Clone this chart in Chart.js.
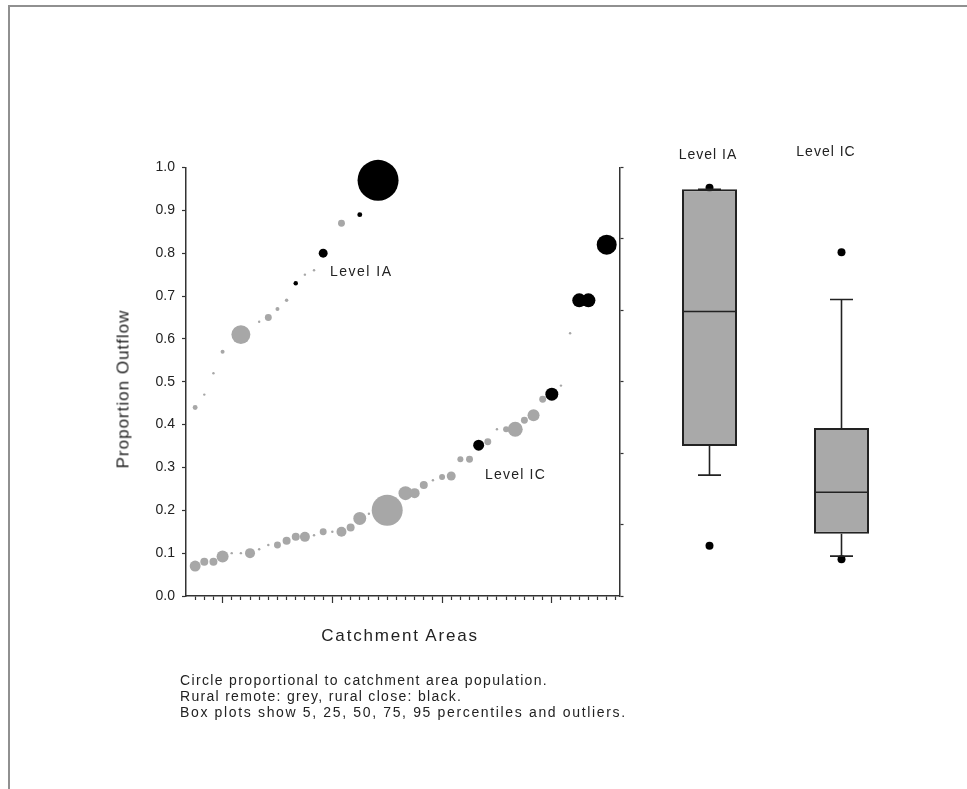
<!DOCTYPE html>
<html>
<head>
<meta charset="utf-8">
<script src="https://cdn.jsdelivr.net/npm/chart.js@4"></script>
<style>
  body { margin: 0; background: #fff; width: 967px; height: 789px; overflow: hidden; position: relative; }
  .frame { position: absolute; left: 8px; top: 5px; width: 980px; height: 800px; border-left: 2px solid #909090; border-top: 2px solid #909090; }
  canvas { position: absolute; top: 0; }
  .t { position: absolute; font-family: "Liberation Sans", Arial, sans-serif; color: #222; white-space: nowrap; line-height: 1; }
</style>
</head>
<body>
<div class="frame"></div>
<canvas id="scatter" width="640" height="789" style="left:0"></canvas>
<canvas id="boxes" width="345" height="789" style="left:622px"></canvas>

<div class="t" style="left:123px;top:389px;font-size:17px;letter-spacing:1px;transform:translate(-50%,-50%) rotate(-90deg)">Proportion Outflow</div>
<div class="t" style="left:400px;top:635px;font-size:17px;letter-spacing:1.8px;transform:translate(-50%,-50%)">Catchment Areas</div>
<div class="t" style="left:330px;top:271px;font-size:14px;letter-spacing:1.5px;transform:translateY(-50%)">Level IA</div>
<div class="t" style="left:485px;top:474px;font-size:14px;letter-spacing:1.2px;transform:translateY(-50%)">Level IC</div>
<div class="t" style="left:708px;top:154px;font-size:14px;letter-spacing:1px;transform:translate(-50%,-50%)">Level IA</div>
<div class="t" style="left:826px;top:151px;font-size:14px;letter-spacing:1px;transform:translate(-50%,-50%)">Level IC</div>
<div class="t" style="left:180px;top:680px;font-size:14px;letter-spacing:1.35px;transform:translateY(-50%)">Circle proportional to catchment area population.</div>
<div class="t" style="left:180px;top:696px;font-size:14px;letter-spacing:1.3px;transform:translateY(-50%)">Rural remote: grey, rural close: black.</div>
<div class="t" style="left:180px;top:712px;font-size:14px;letter-spacing:1.65px;transform:translateY(-50%)">Box plots show 5, 25, 50, 75, 95 percentiles and outliers.</div>

<script>
// Level IA catchments (upper curve)
const iaArea = [1, 2, 3, 4, 6, 8, 9, 10, 11, 12, 13, 14, 15, 17, 19, 21];
const iaOutflow = [0.44, 0.47, 0.52, 0.57, 0.61, 0.64, 0.65, 0.67, 0.69, 0.73, 0.75, 0.76, 0.80, 0.87, 0.89, 0.97];
const iaPopulation = [6, 1.5, 1.5, 4, 90, 1.5, 12, 4, 3, 5, 1.5, 1.5, 20, 12, 6, 420];
const iaRural = ['R','R','R','R','R','R','R','R','R','C','R','R','C','R','C','C'];

// Level IC catchments (lower curve)
const icArea = [1, 2, 3, 4, 5, 6, 7, 8, 9, 10, 11, 12, 13, 14, 15, 16, 17, 18, 19, 20, 22, 24, 25, 26, 27, 28, 29, 30, 31, 32, 33, 34, 35, 36, 37, 38, 39, 40, 41, 42, 43, 44, 46];
const icOutflow = [0.070, 0.080, 0.080, 0.092, 0.100, 0.100, 0.100, 0.109, 0.119, 0.119, 0.129, 0.138, 0.138, 0.142, 0.150, 0.150, 0.150, 0.160, 0.181, 0.192, 0.200, 0.240, 0.240, 0.259, 0.270, 0.278, 0.280, 0.319, 0.319, 0.352, 0.360, 0.389, 0.389, 0.389, 0.410, 0.422, 0.459, 0.471, 0.491, 0.613, 0.690, 0.690, 0.820];
const icPopulation = [30, 16, 16, 36, 1.5, 1.5, 25, 1.5, 1.5, 12, 16, 16, 25, 1.5, 12, 1.5, 25, 16, 42, 1.5, 240, 49, 25, 16, 1.5, 9, 20, 9, 12, 30, 12, 1.5, 9, 56, 12, 36, 12, 42, 1.5, 1.5, 49, 49, 100];
const icRural = ['R','R','R','R','R','R','R','R','R','R','R','R','R','R','R','R','R','R','R','R','R','R','R','R','R','R','R','R','R','C','R','R','R','R','R','R','R','C','R','R','C','C','C'];

const yTicks = [0, 0.1, 0.2, 0.3, 0.4, 0.5, 0.6, 0.7, 0.8, 0.9, 1.0];
const areaTickCount = 47;
const areaMajorTicks = [4, 16, 28, 40];

// box plots
const boxLabels = ['Level IA', 'Level IC'];
const boxP5 = [0.282, 0.093];
const boxQ1 = [0.350, 0.145];
const boxMedian = [0.664, 0.242];
const boxQ3 = [0.949, 0.392];
const boxP95 = [0.949, 0.692];
const boxOutliers = [[0.953, 0.117], [0.802, 0.086]];

const GREY = '#a7a7a7';
const AXIS = '#333';
const FONT = { family: '"Liberation Sans", Arial, sans-serif', size: 14 };

function bubbles(xs, ys, pops) {
  return xs.map((x, i) => ({ x: x, y: ys[i], r: Math.sqrt(pops[i]) }));
}

function colorsFor(rural) {
  return rural.map(r => r === 'C' ? '#000' : GREY);
}

const areaTicks = [];
for (let i = 1; i <= areaTickCount; i++) areaTicks.push(i);

new Chart(document.getElementById('scatter'), {
  type: 'bubble',
  data: {
    datasets: [
      { data: bubbles(icArea, icOutflow, icPopulation), backgroundColor: colorsFor(icRural), borderWidth: 0, clip: false },
      { data: bubbles(iaArea, iaOutflow, iaPopulation), backgroundColor: colorsFor(iaRural), borderWidth: 0, clip: false }
    ]
  },
  options: {
    responsive: false,
    animation: false,
    events: [],
    layout: { autoPadding: false, padding: { left: 136, right: 10.5, top: 167.5, bottom: 186 } },
    plugins: { legend: { display: false }, tooltip: { enabled: false } },
    scales: {
      x: {
        type: 'linear', min: 0, max: 47.4,
        afterBuildTicks: s => { s.ticks = areaTicks.map(v => ({ value: v })); },
        afterFit: s => { s.height = 4; },
        ticks: { display: false },
        grid: { drawOnChartArea: false, tickLength: 4, tickColor: AXIS, tickWidth: 1.2 },
        border: { color: AXIS, width: 1.5 }
      },
      x2: {
        type: 'linear', position: 'bottom', min: 0, max: 47.4,
        afterBuildTicks: s => { s.ticks = areaMajorTicks.map(v => ({ value: v })); },
        afterFit: s => { s.height = 3; },
        ticks: { display: false },
        grid: { drawOnChartArea: false, tickLength: 3, tickColor: AXIS, tickWidth: 1.2 },
        border: { display: false }
      },
      y: {
        min: 0, max: 1,
        afterBuildTicks: s => { s.ticks = yTicks.map(v => ({ value: v })); },
        afterFit: s => { s.width = 50; },
        ticks: { padding: 7, color: '#222', font: FONT, callback: v => v.toFixed(1) },
        grid: { drawOnChartArea: false, tickLength: 4, tickColor: AXIS, tickWidth: 1.2 },
        border: { color: AXIS, width: 1.5 }
      },
      y2: {
        position: 'right', min: 0, max: 6,
        ticks: { display: false, stepSize: 1 },
        afterFit: s => { s.width = 10; },
        grid: { drawOnChartArea: false, tickLength: 4, tickColor: AXIS, tickWidth: 1.2 },
        border: { color: AXIS, width: 1.5 }
      }
    }
  }
});

// whisker segments, broken by null gaps
const whiskerPts = [];
boxLabels.forEach((lab, i) => {
  whiskerPts.push({ x: lab, y: boxQ1[i] }, { x: lab, y: boxP5[i] }, { x: lab, y: null });
  whiskerPts.push({ x: lab, y: boxQ3[i] }, { x: lab, y: boxP95[i] }, { x: lab, y: null });
});
const capPts = [];
boxLabels.forEach((lab, i) => { capPts.push({ x: lab, y: boxP5[i] }, { x: lab, y: boxP95[i] }); });
const outlierPts = [];
boxLabels.forEach((lab, i) => { boxOutliers[i].forEach(v => outlierPts.push({ x: lab, y: v })); });

new Chart(document.getElementById('boxes'), {
  type: 'bar',
  data: {
    labels: boxLabels,
    datasets: [
      { type: 'line', order: 3, data: outlierPts, showLine: false, pointRadius: 4, pointBackgroundColor: '#000', pointBorderWidth: 0, clip: false },
      { type: 'bar', order: 2, data: boxLabels.map((l, i) => [boxQ1[i], boxQ3[i]]),
        backgroundColor: '#a9a9a9', borderColor: '#222', borderWidth: 2, borderSkipped: false,
        barPercentage: 55 / 132, categoryPercentage: 1 },
      { type: 'line', order: 1, data: whiskerPts, borderColor: '#222', borderWidth: 1.6, pointRadius: 0, spanGaps: false },
      { type: 'line', order: 0, data: capPts, showLine: false, pointStyle: 'line', pointRadius: 11.5, pointBorderColor: '#222', pointBorderWidth: 1.6 },
      { type: 'line', order: 0, data: boxLabels.map((l, i) => ({ x: l, y: boxMedian[i] })), showLine: false,
        pointStyle: 'line', pointRadius: 27.5, pointBorderColor: '#222', pointBorderWidth: 1.6 }
    ]
  },
  options: {
    responsive: false,
    animation: false,
    events: [],
    layout: { autoPadding: false, padding: { left: 21.5, right: 59.5, top: 167.5, bottom: 193 } },
    plugins: { legend: { display: false }, tooltip: { enabled: false } },
    scales: {
      x: { type: 'category', display: false },
      y: { min: 0, max: 1, display: false }
    }
  }
});
</script>
</body>
</html>
